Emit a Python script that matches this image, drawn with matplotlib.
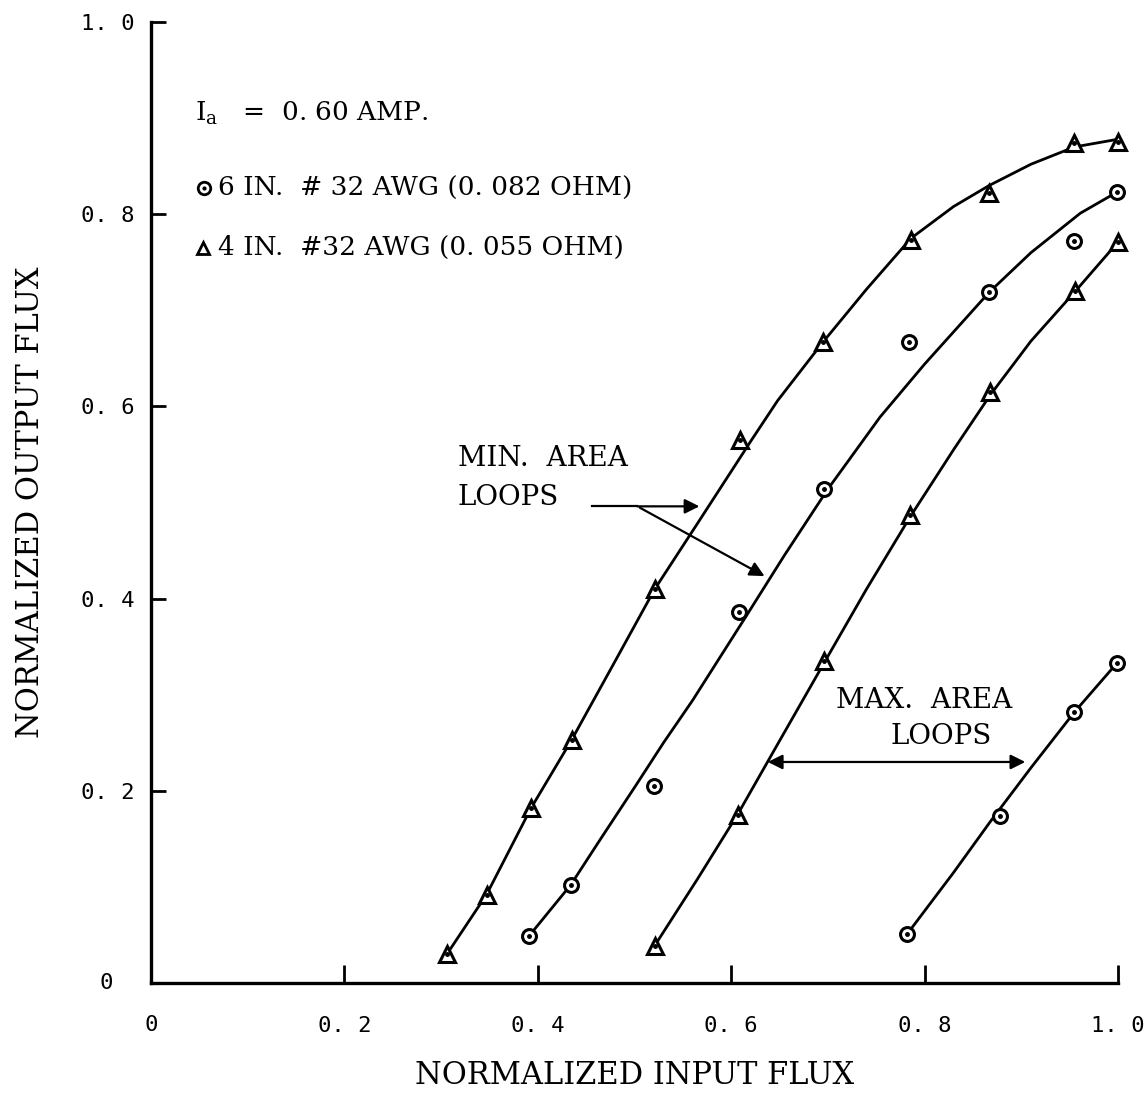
"""
Normalized output flux vs normalized input flux, min/max area loops.
"""
import matplotlib
matplotlib.use('Agg')
import matplotlib.pyplot as plt

plt.rcParams['font.family'] = ['DejaVu Serif']
plt.rcParams['mathtext.fontset'] = 'dejavuserif'

# measured points, 4 in. wire (triangles), min area loops
tri_min_x = [0.306, 0.347, 0.393, 0.435, 0.521, 0.609, 0.695, 0.786, 0.867, 0.955, 1.0]
tri_min_y = [0.030, 0.092, 0.182, 0.253, 0.410, 0.565, 0.667, 0.773, 0.822, 0.874, 0.875]
# measured points, 6 in. wire (circles), min area loops
cir_min_x = [0.391, 0.434, 0.520, 0.608, 0.696, 0.784, 0.867, 0.955, 0.999]
cir_min_y = [0.049, 0.102, 0.205, 0.386, 0.514, 0.667, 0.719, 0.772, 0.823]
# measured points, 4 in. wire (triangles), max area loops
tri_max_x = [0.521, 0.607, 0.696, 0.785, 0.868, 0.956, 1.0]
tri_max_y = [0.039, 0.175, 0.335, 0.487, 0.615, 0.720, 0.771]
# measured points, 6 in. wire (circles), max area loops
cir_max_x = [0.782, 0.878, 0.955, 0.999]
cir_max_y = [0.051, 0.174, 0.282, 0.333]

# hand drawn fitted curves
fit_tri_min_x = [0.306, 0.347, 0.393, 0.435, 0.480, 0.521, 0.565, 0.621, 0.648, 0.695,
                 0.740, 0.786, 0.830, 0.867, 0.910, 0.955, 1.0]
fit_tri_min_y = [0.030, 0.092, 0.182, 0.253, 0.335, 0.410, 0.478, 0.565, 0.606, 0.667,
                 0.722, 0.775, 0.808, 0.830, 0.852, 0.870, 0.878]
fit_cir_min_x = [0.391, 0.434, 0.465, 0.501, 0.530, 0.560, 0.615, 0.655, 0.700, 0.754,
                 0.800, 0.867, 0.910, 0.961, 0.999]
fit_cir_min_y = [0.049, 0.102, 0.150, 0.205, 0.250, 0.294, 0.381, 0.445, 0.514, 0.589,
                 0.644, 0.719, 0.760, 0.801, 0.823]
fit_tri_max_x = [0.521, 0.565, 0.607, 0.650, 0.696, 0.740, 0.785, 0.830, 0.868, 0.910, 0.956, 1.0]
fit_tri_max_y = [0.039, 0.108, 0.176, 0.252, 0.333, 0.410, 0.485, 0.555, 0.612, 0.668, 0.720, 0.771]
fit_cir_max_x = [0.782, 0.830, 0.868, 0.910, 0.955, 0.999]
fit_cir_max_y = [0.051, 0.115, 0.168, 0.224, 0.282, 0.333]

ticks = [0.2, 0.4, 0.6, 0.8, 1.0]
tick_labels = ['0. 2', '0. 4', '0. 6', '0. 8', '1. 0']
tick_font = 'DejaVu Sans Mono'

fig = plt.figure(figsize=(11.47, 11.03), dpi=100, facecolor='white')
ax = fig.add_axes([151 / 1147, 120 / 1103, 967 / 1147, 961 / 1103])
ax.set_xlim(0, 1)
ax.set_ylim(0, 1)
for s in ['top', 'right']:
    ax.spines[s].set_visible(False)
for s in ['left', 'bottom']:
    ax.spines[s].set_linewidth(2.4)

# curves
for fx, fy in [(fit_tri_min_x, fit_tri_min_y), (fit_cir_min_x, fit_cir_min_y),
               (fit_tri_max_x, fit_tri_max_y), (fit_cir_max_x, fit_cir_max_y)]:
    ax.plot(fx, fy, color='black', lw=2.0, clip_on=False, zorder=2,
            solid_joinstyle='round')

# markers, with the little dot in the middle
def draw_pts(xs, ys, marker, ms):
    ax.plot(xs, ys, ls='none', marker=marker, ms=ms, mfc='white', mec='black',
            mew=2.2, clip_on=False, zorder=3)
    ax.plot(xs, ys, ls='none', marker='o', ms=2.5, color='black', clip_on=False, zorder=4)

draw_pts(tri_min_x, tri_min_y, '^', 11)
draw_pts(cir_min_x, cir_min_y, 'o', 10)
draw_pts(tri_max_x, tri_max_y, '^', 11)
draw_pts(cir_max_x, cir_max_y, 'o', 10)

# ticks
ax.set_xticks(ticks)
ax.set_yticks(ticks)
ax.tick_params(axis='x', direction='in', length=13, width=2.0, pad=24)
ax.tick_params(axis='y', direction='in', length=11, width=2.0, pad=12)
ax.set_xticklabels(tick_labels, family=tick_font, fontsize=16)
ax.set_yticklabels(tick_labels, family=tick_font, fontsize=16)
ax.text(0, -0.044, '0', transform=ax.transAxes, ha='center', va='center',
        family=tick_font, fontsize=16)
ax.text(-0.053, 0, '0', transform=ax.transAxes, ha='left', va='center',
        family=tick_font, fontsize=16)

ax.set_xlabel('NORMALIZED INPUT FLUX', fontsize=22, va='center')
ax.xaxis.set_label_coords(0.5, -0.096)
ax.set_ylabel('NORMALIZED OUTPUT FLUX', fontsize=22, va='center')
ax.yaxis.set_label_coords(-0.125, 0.5)

# legend block
ax.text(0.046, 0.905, r'$\mathrm{I}_{\mathrm{a}}$   =  0. 60 AMP.', fontsize=19,
        ha='left', va='center', transform=ax.transAxes)
ax.plot([0.055], [0.827], transform=ax.transAxes, marker='o', ms=9, mfc='white',
        mec='black', mew=2.0, ls='none')
ax.plot([0.055], [0.827], transform=ax.transAxes, marker='o', ms=2, color='black', ls='none')
ax.text(0.069, 0.827, '6 IN.  # 32 AWG (0. 082 OHM)', fontsize=19,
        ha='left', va='center', transform=ax.transAxes)
ax.plot([0.054], [0.765], transform=ax.transAxes, marker='^', ms=9, mfc='white',
        mec='black', mew=2.0, ls='none')
ax.text(0.069, 0.765, '4 IN.  #32 AWG (0. 055 OHM)', fontsize=19,
        ha='left', va='center', transform=ax.transAxes)

# annotations
ax.text(0.317, 0.546, 'MIN.  AREA', fontsize=20, ha='left', va='center')
ax.text(0.317, 0.505, 'LOOPS', fontsize=20, ha='left', va='center')
ax.plot([0.456, 0.503], [0.496, 0.496], color='black', lw=1.6)
ax.annotate('', xy=(0.570, 0.496), xytext=(0.500, 0.496),
            arrowprops=dict(arrowstyle='-|>', color='black', lw=1.6, mutation_scale=22))
ax.annotate('', xy=(0.637, 0.422), xytext=(0.503, 0.496),
            arrowprops=dict(arrowstyle='-|>', color='black', lw=1.6, mutation_scale=22))

ax.text(0.800, 0.294, 'MAX.  AREA', fontsize=20, ha='center', va='center')
ax.text(0.817, 0.256, 'LOOPS', fontsize=20, ha='center', va='center')
ax.annotate('', xy=(0.635, 0.230), xytext=(0.907, 0.230),
            arrowprops=dict(arrowstyle='<|-|>', color='black', lw=1.6, mutation_scale=22))

plt.savefig('out.png', dpi=100, facecolor='white')
plt.close()
